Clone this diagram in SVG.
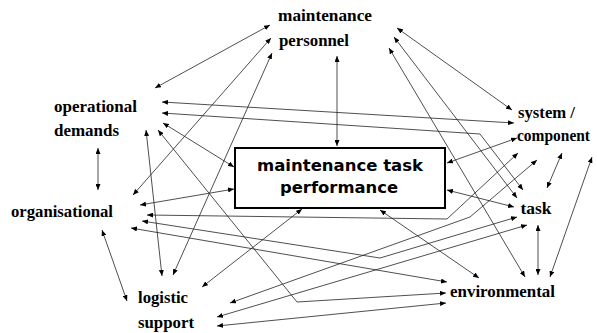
<svg xmlns="http://www.w3.org/2000/svg" width="597" height="333" viewBox="0 0 597 333">
<style>
.lbl{font-family:"Liberation Serif","DejaVu Serif",serif;font-size:17.5px;font-weight:bold;fill:#000}
.box{font-family:"DejaVu Sans","Liberation Sans",sans-serif;font-weight:bold;font-size:16px;fill:#000}
.c{fill:none;stroke:#222;stroke-width:0.8;marker-start:url(#ah);marker-end:url(#ah)}
</style>
<defs>
<marker id="ah" markerUnits="userSpaceOnUse" markerWidth="6" markerHeight="5" refX="6" refY="2.5" orient="auto-start-reverse">
<path d="M0,0 L6,2.5 L0,5 z" fill="#000"/>
</marker>
</defs>
<rect width="597" height="333" fill="#fff"/>
<g id="connectors">
<path class="c" d="M270,25 L155,88"/>
<path class="c" d="M271,38 L133,195"/>
<path class="c" d="M272,53 L173,275"/>
<path class="c" d="M337,56 L337,146"/>
<path class="c" d="M397,28 L512,110"/>
<path class="c" d="M394,37 L517,198"/>
<path class="c" d="M389,48 L525,277"/>
<path class="c" d="M163,123 L234,167"/>
<path class="c" d="M98,148 L98,190"/>
<path class="c" d="M146,130 L162,276"/>
<path class="c" d="M158,130 L297,302 L446,293"/>
<path class="c" d="M162,102 L514,123"/>
<path class="c" d="M162,113 L480,134 L523,190"/>
<path class="c" d="M140,205 L234,189"/>
<path class="c" d="M147,215 L447,219 L518,153"/>
<path class="c" d="M142,221 L380,258 L517,217"/>
<path class="c" d="M131,228 L447,282"/>
<path class="c" d="M102,230 L127,301"/>
<path class="c" d="M202,287 L302,209"/>
<path class="c" d="M230,303 L470,217 L537,160"/>
<path class="c" d="M217,317 L527,225"/>
<path class="c" d="M217,326 L446,303"/>
<path class="c" d="M380,210 L479,278"/>
<path class="c" d="M538,225 L538,275"/>
<path class="c" d="M550,277 L592,157"/>
<path class="c" d="M447,190 L514,207"/>
<path class="c" d="M562,153 L547,188"/>
<path class="c" d="M447,163 L517,138"/>
</g>
<g id="box">
<rect x="235" y="148" width="210" height="60" fill="#fff" stroke="#000" stroke-width="2"/>
<text class="box" x="340" y="171" text-anchor="middle" textLength="166" lengthAdjust="spacingAndGlyphs">maintenance task</text>
<text class="box" x="339" y="193" text-anchor="middle" textLength="118" lengthAdjust="spacingAndGlyphs">performance</text>
</g>
<g id="personnel">
<text class="lbl" x="278" y="21" textLength="94" lengthAdjust="spacingAndGlyphs">maintenance</text>
<text class="lbl" x="279" y="45.5" textLength="70" lengthAdjust="spacingAndGlyphs">personnel</text>
</g>
<g id="operational">
<text class="lbl" x="54" y="112" textLength="83" lengthAdjust="spacingAndGlyphs">operational</text>
<text class="lbl" x="54" y="136" textLength="65" lengthAdjust="spacingAndGlyphs">demands</text>
</g>
<g id="organisational">
<text class="lbl" x="11" y="217" textLength="102" lengthAdjust="spacingAndGlyphs">organisational</text>
</g>
<g id="logistic">
<text class="lbl" x="138" y="303" textLength="50" lengthAdjust="spacingAndGlyphs">logistic</text>
<text class="lbl" x="138" y="328" textLength="56" lengthAdjust="spacingAndGlyphs">support</text>
</g>
<g id="system">
<text class="lbl" x="518" y="118" textLength="57" lengthAdjust="spacingAndGlyphs">system /</text>
<text class="lbl" x="517" y="141" style="font-size:16px" textLength="73" lengthAdjust="spacingAndGlyphs">component</text>
</g>
<g id="task">
<text class="lbl" x="520.5" y="214" textLength="31" lengthAdjust="spacingAndGlyphs">task</text>
</g>
<g id="environmental">
<text class="lbl" x="450" y="297" textLength="105" lengthAdjust="spacingAndGlyphs">environmental</text>
</g>
</svg>
